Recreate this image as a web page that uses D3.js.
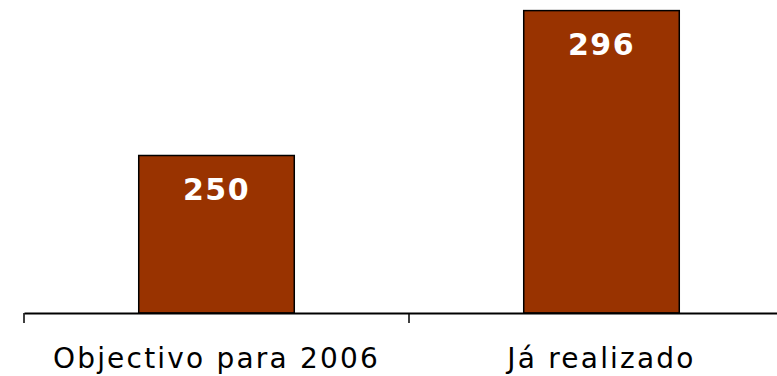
<!DOCTYPE html>
<html>
<head>
<meta charset="utf-8">
<script src="https://cdn.jsdelivr.net/npm/d3@7"></script>
<style>
  html, body { margin: 0; padding: 0; background: #fff; }
  svg { display: block; }
</style>
</head>
<body>
<svg id="chart" width="777" height="376"></svg>
<script>
const categories = ["Objectivo para 2006", "Já realizado"];
const values = [250, 296];

const svg = d3.select("#chart");
const baseY = 313;

const x = d3.scaleBand().domain(categories).range([24, 794]).padding(0);
const y = d3.scaleLinear().domain([200, 300]).range([baseY, -2]);

const barFrac = 0.404;
const bw = x.bandwidth() * barFrac;

// bars
svg.selectAll("rect.bar")
  .data(categories)
  .join("rect")
  .attr("class", "bar")
  .attr("x", (c) => x(c) + (x.bandwidth() - bw) / 2)
  .attr("y", (c, i) => y(values[i]))
  .attr("width", bw)
  .attr("height", (c, i) => baseY - y(values[i]))
  .attr("fill", "#993300")
  .attr("stroke", "#000")
  .attr("stroke-width", 1.5);

// value labels inside bars
svg.selectAll("text.val")
  .data(categories)
  .join("text")
  .attr("class", "val")
  .attr("x", (c) => x(c) + x.bandwidth() / 2)
  .attr("y", (c, i) => y(values[i]) + 44)
  .attr("text-anchor", "middle")
  .attr("fill", "#fff")
  .attr("font-family", "DejaVu Sans, Verdana, sans-serif")
  .attr("font-weight", "bold")
  .attr("font-size", 30)
  .attr("letter-spacing", 1.5)
  .text((c, i) => values[i]);

// category axis line
const axis = d3.axisBottom(x).tickSize(0).tickFormat("");
const g = svg.append("g").attr("transform", `translate(0,${baseY})`).call(axis);
g.select(".domain").attr("stroke", "#000").attr("stroke-width", 2);

// band boundary ticks
const bounds = categories.map((c) => x(c)).concat([x.range()[1]]);
svg.selectAll("line.tick")
  .data(bounds)
  .join("line")
  .attr("class", "tick")
  .attr("x1", (d) => d).attr("x2", (d) => d)
  .attr("y1", baseY).attr("y2", baseY + 10)
  .attr("stroke", "#000")
  .attr("stroke-width", 1.5);

// category labels
svg.selectAll("text.cat")
  .data(categories)
  .join("text")
  .attr("class", "cat")
  .attr("x", (c) => x(c) + x.bandwidth() / 2)
  .attr("y", 368)
  .attr("text-anchor", "middle")
  .attr("fill", "#000")
  .attr("font-family", "DejaVu Sans, Verdana, sans-serif")
  .attr("font-size", 28)
  .attr("letter-spacing", 2.2)
  .text((c) => c);
</script>
</body>
</html>
